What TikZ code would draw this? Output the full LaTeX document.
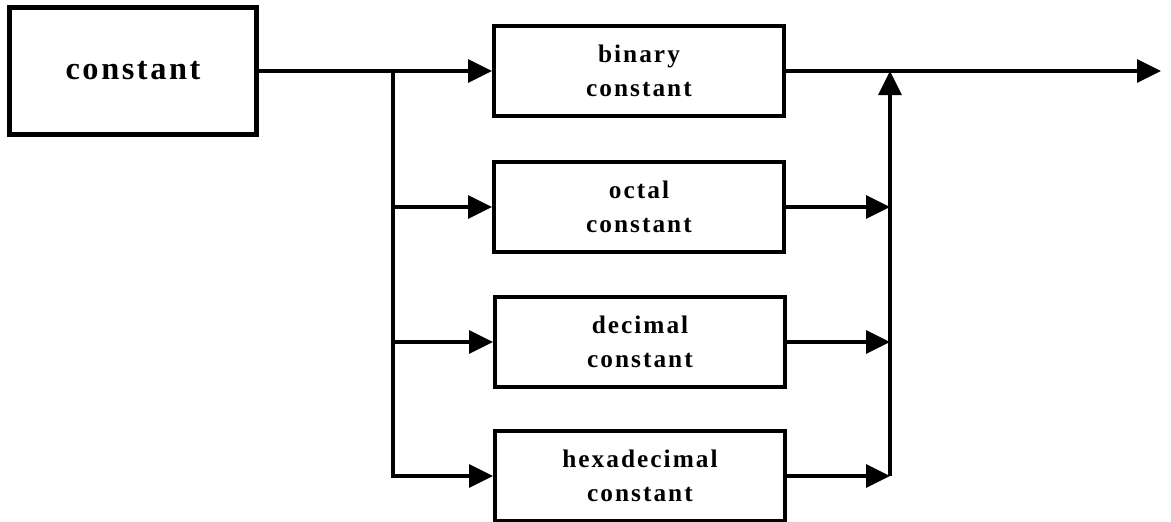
\documentclass[tikz,border=0pt]{standalone}
\usepackage{fontspec}
\setmainfont{Liberation Serif}[LetterSpace=8]
\usetikzlibrary{arrows.meta}
\begin{document}
\begin{tikzpicture}[x=0.025cm, y=-0.025cm, line width=2.7pt,
  >={Triangle[length=0.6cm, width=0.57cm]},
  blk/.style={draw, minimum width=7.25cm, minimum height=2.25cm, inner sep=0pt,
    align=center, font=\bfseries\fontsize{18}{24}\selectfont},
  bigblk/.style={draw, line width=4.2pt, minimum width=6.175cm, minimum height=3.175cm,
    inner sep=0pt, font=\bfseries\fontsize{23}{28}\selectfont}]
\useasboundingbox (0,0) rectangle (1171,521);
\def\xa{393}
\def\xb{890}
\node[bigblk] (cnst) at (133,71) {constant};
\node[blk] (bin) at (639,71)  {binary\\constant};
\node[blk] (oct) at (639,207) {octal\\constant};
\node[blk] (dec) at (640,342) {decimal\\constant};
\node[blk] (hex) at (640,476) {hexadecimal\\constant};
\coordinate (split) at (\xa,71);
\coordinate (merge) at (\xb,71);
\coordinate (mbot)  at (\xb,476);
\coordinate (out)   at (1161,71);
\draw[->] (cnst) -- (bin);
\draw[->] (split) |- (oct.west);
\draw[->] (split) |- (dec.west);
\draw[->] (split) |- (hex.west);
\draw[->] (bin) -- (out);
\draw[->] (oct) -- (oct -| merge);
\draw[->] (dec) -- (dec -| merge);
\draw[->] (hex) -- (mbot);
\draw[->] (mbot) -- (merge);
\end{tikzpicture}
\end{document}
